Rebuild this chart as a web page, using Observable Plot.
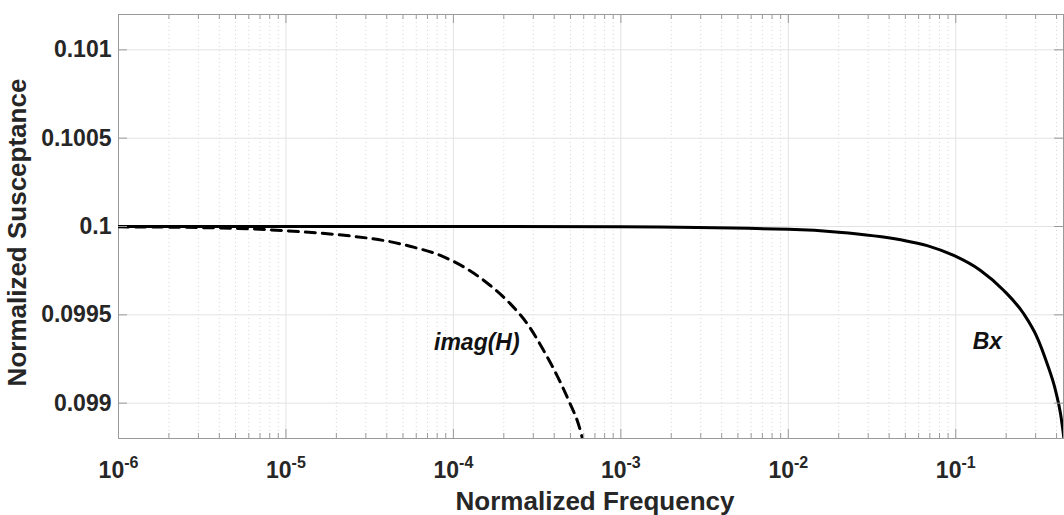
<!DOCTYPE html>
<html>
<head>
<meta charset="utf-8">
<script src="https://cdn.jsdelivr.net/npm/d3@7"></script>
<script src="https://cdn.jsdelivr.net/npm/@observablehq/plot@0.6"></script>
<style>
  html, body { margin: 0; padding: 0; background: #fff; }
  #chart svg { display: block; }
</style>
</head>
<body>
<div id="chart"></div>
<script>
// ---- data ----
const freqImagH = [1e-6, 3e-6, 6e-6, 1.11e-5, 1.77e-5, 2.6e-5, 4.03e-5, 5.78e-5, 8.36e-5, 1.205e-4, 1.66e-4, 2.19e-4, 2.81e-4, 3.46e-4, 4.16e-4, 4.88e-4, 5.73e-4, 5.89e-4, 6.2e-4];
const imagH     = [0.099998, 0.099994, 0.099987, 0.099973, 0.099959, 0.099943, 0.099917, 0.099883, 0.099836, 0.09976, 0.099666, 0.099562, 0.099439, 0.099298, 0.099156, 0.099015, 0.098845, 0.098801, 0.09874];

const freqBx = [1e-6, 1e-4, 1e-3, 0.01, 0.02, 0.0468, 0.0675, 0.0973, 0.1406, 0.1936, 0.2547, 0.306, 0.3515, 0.3945, 0.4227, 0.4416, 0.45];
const Bx     = [0.1, 0.1, 0.099998, 0.099984, 0.099968, 0.099925, 0.099892, 0.099836, 0.099751, 0.099638, 0.099506, 0.099373, 0.099223, 0.099071, 0.098939, 0.098807, 0.09874];

const xTicks = [1e-6, 1e-5, 1e-4, 1e-3, 1e-2, 1e-1];
const yTicks = [0.099, 0.0995, 0.1, 0.1005, 0.101];
const xDomain = [1e-6, 0.44];
const yDomain = [0.0988, 0.1012];

const annotText = ["imag(H)", "Bx"];
const annotFreq = [1.38e-4, 0.1545];
const annotVal  = [0.09934, 0.09935];

const xLabel = "Normalized Frequency";
const yLabel = "Normalized Susceptance";

// ---- build tables ----
const hData  = freqImagH.map((f, i) => ({f, v: imagH[i]}));
const bxData = freqBx.map((f, i) => ({f, v: Bx[i]}));
const annots = annotText.map((t, i) => ({t, f: annotFreq[i], v: annotVal[i]}));
const xMinor = [];
for (const d of xTicks) for (let m = 2; m <= 9; m++) { const v = d * m; if (v <= xDomain[1]) xMinor.push(v); }

const W = 1064, H = 515, mL = 118, mR = 1, mT = 14, mB = 77;
const innerW = W - mL - mR, innerH = H - mT - mB;
const axisCol = "#9a9a9a";
const textCol = "#262626";

const chart = Plot.plot({
  width: W, height: H,
  marginLeft: mL, marginRight: mR, marginTop: mT, marginBottom: mB,
  style: {fontFamily: "'Liberation Sans', Arial, sans-serif", color: textCol, background: "#fff"},
  x: {type: "log", domain: xDomain},
  y: {domain: yDomain},
  marks: [
    Plot.gridX(xMinor, {stroke: "#d6d6d6", strokeOpacity: 1, strokeDasharray: "1,3"}),
    Plot.gridX(xTicks, {stroke: "#e3e3e3", strokeOpacity: 1}),
    Plot.gridY(yTicks, {stroke: "#e3e3e3", strokeOpacity: 1}),
    Plot.frame({stroke: axisCol}),
    Plot.line(hData, {x: "f", y: "v", stroke: "black", strokeWidth: 3, strokeDasharray: "10,7", curve: "monotone-x", clip: true}),
    Plot.line(bxData, {x: "f", y: "v", stroke: "black", strokeWidth: 3, curve: "monotone-x", clip: true}),
    // inward ticks
    Plot.tickX(xTicks, {x: d => d, stroke: axisCol, insetTop: innerH - 9}),
    Plot.tickX(xMinor, {x: d => d, stroke: axisCol, insetTop: innerH - 5}),
    Plot.tickX(xTicks, {x: d => d, stroke: axisCol, insetBottom: innerH - 9}),
    Plot.tickX(xMinor, {x: d => d, stroke: axisCol, insetBottom: innerH - 5}),
    Plot.tickY(yTicks, {y: d => d, stroke: axisCol, insetRight: innerW - 9}),
    Plot.tickY(yTicks, {y: d => d, stroke: axisCol, insetLeft: innerW - 9}),
    // tick labels
    Plot.axisX(xTicks, {tickSize: 0, tickPadding: 23, fontSize: 23, fontWeight: "bold", label: null,
      tickFormat: d => "10^" + Math.round(Math.log10(d))}),
    Plot.axisY(yTicks, {tickSize: 0, tickPadding: 7, fontSize: 23, fontWeight: "bold", label: null,
      tickFormat: d => String(+d.toPrecision(6))}),
    // axis titles
    Plot.text([xLabel], {frameAnchor: "bottom", text: d => d, dy: 71, dx: 4, fontSize: 26, fontWeight: "bold", fill: textCol}),
    Plot.text([yLabel], {frameAnchor: "left", text: d => d, textAnchor: "middle", lineAnchor: "middle", rotate: -90, dx: -101, dy: 6, fontSize: 26, fontWeight: "bold", fill: textCol}),
    // curve labels
    Plot.text(annots, {x: "f", y: "v", text: "t", fontSize: 23, fontWeight: "bold", fontStyle: "italic", fill: "#111"})
  ]
});

document.getElementById("chart").appendChild(chart);

// superscript exponents on x tick labels
d3.select(chart).selectAll('g[aria-label="x-axis tick label"] text').each(function() {
  const s = this.textContent;
  if (!s.startsWith("10^")) return;
  const exp = s.slice(3);
  const t = d3.select(this);
  t.text(null);
  t.append("tspan").text("10");
  t.append("tspan").attr("dy", "-0.6em").attr("font-size", "16px").text(exp);
});
</script>
</body>
</html>
